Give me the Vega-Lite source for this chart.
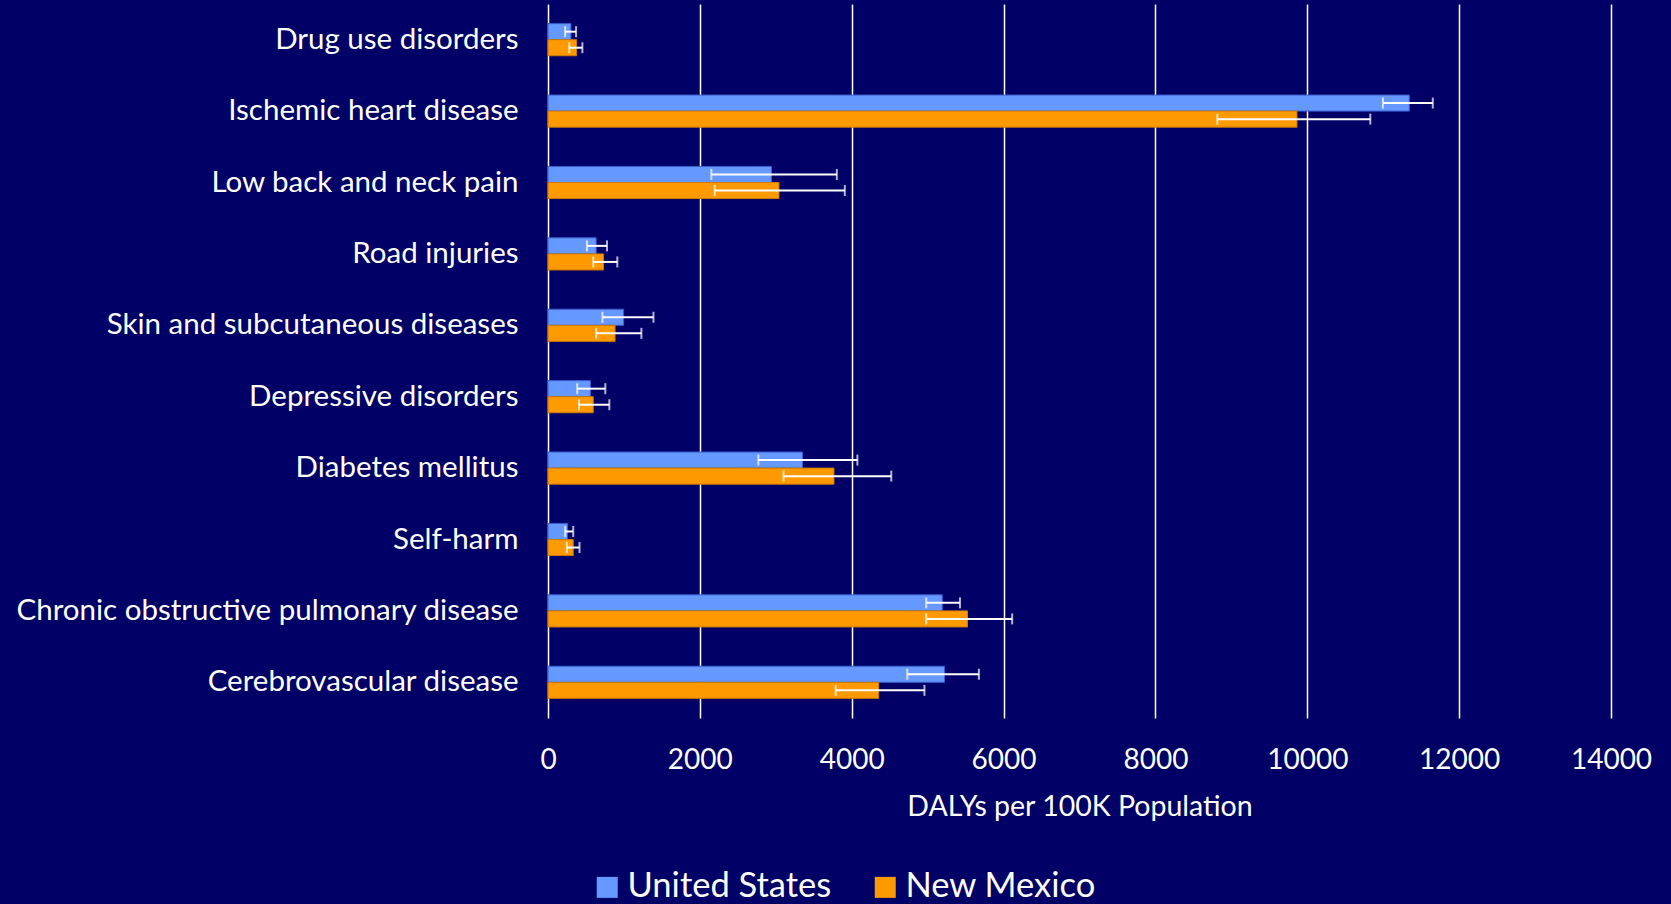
{
  "$schema": "https://vega.github.io/schema/vega-lite/v6.json",
  "autosize": {"type": "none"},
  "padding": {"left": 548, "top": 4, "right": 60, "bottom": 186},
  "width": 1063,
  "height": 714,
  "background": "#000066",
  "config": {
    "view": {"stroke": null},
    "font": "Lato",
    "text": {"font": "Lato"}
  },
  "data": {
    "values": [
      {"cause": "Drug use disorders", "region": "United States", "value": 302, "low": 226, "high": 370},
      {"cause": "Drug use disorders", "region": "New Mexico", "value": 377, "low": 280, "high": 453},
      {"cause": "Ischemic heart disease", "region": "United States", "value": 11343, "low": 10996, "high": 11653},
      {"cause": "Ischemic heart disease", "region": "New Mexico", "value": 9864, "low": 8815, "high": 10830},
      {"cause": "Low back and neck pain", "region": "United States", "value": 2943, "low": 2151, "high": 3804},
      {"cause": "Low back and neck pain", "region": "New Mexico", "value": 3042, "low": 2196, "high": 3909},
      {"cause": "Road injuries", "region": "United States", "value": 634, "low": 513, "high": 777},
      {"cause": "Road injuries", "region": "New Mexico", "value": 732, "low": 596, "high": 913},
      {"cause": "Skin and subcutaneous diseases", "region": "United States", "value": 996, "low": 717, "high": 1389},
      {"cause": "Skin and subcutaneous diseases", "region": "New Mexico", "value": 883, "low": 634, "high": 1230},
      {"cause": "Depressive disorders", "region": "United States", "value": 558, "low": 385, "high": 755},
      {"cause": "Depressive disorders", "region": "New Mexico", "value": 596, "low": 408, "high": 808},
      {"cause": "Diabetes mellitus", "region": "United States", "value": 3351, "low": 2770, "high": 4075},
      {"cause": "Diabetes mellitus", "region": "New Mexico", "value": 3766, "low": 3102, "high": 4521},
      {"cause": "Self-harm", "region": "United States", "value": 257, "low": 226, "high": 332},
      {"cause": "Self-harm", "region": "New Mexico", "value": 332, "low": 249, "high": 415},
      {"cause": "Chronic obstructive pulmonary disease", "region": "United States", "value": 5192, "low": 4981, "high": 5426},
      {"cause": "Chronic obstructive pulmonary disease", "region": "New Mexico", "value": 5525, "low": 4981, "high": 6113},
      {"cause": "Cerebrovascular disease", "region": "United States", "value": 5223, "low": 4732, "high": 5675},
      {"cause": "Cerebrovascular disease", "region": "New Mexico", "value": 4355, "low": 3789, "high": 4958}
    ]
  },
  "encoding": {
    "y": {
      "field": "cause", "type": "nominal", "sort": null,
      "scale": {"paddingInner": 0.55, "paddingOuter": 0.275},
      "axis": {
        "title": null, "domain": false, "ticks": false, "grid": false,
        "labelColor": "white", "labelFontSize": 29.5, "labelPadding": 30,
        "labelFont": "Lato", "labelLimit": 600
      }
    },
    "yOffset": {
      "field": "region", "type": "nominal",
      "scale": {"domain": ["United States", "New Mexico"]}
    }
  },
  "layer": [
    {
      "mark": {"type": "bar", "strokeWidth": 1},
      "encoding": {
        "x": {
          "field": "value", "type": "quantitative",
          "scale": {"domain": [0, 14000], "nice": false},
          "axis": {
            "title": "DALYs per 100K Population",
            "values": [0, 2000, 4000, 6000, 8000, 10000, 12000, 14000],
            "format": "d", "labelFlush": false,
            "domain": false, "ticks": false, "grid": true,
            "gridColor": "white", "gridWidth": 1.5, "gridOpacity": 1,
            "labelColor": "white", "labelFontSize": 28, "labelPadding": 28,
            "labelFont": "Lato",
            "titleColor": "white", "titleFontSize": 28.5, "titleFont": "Lato",
            "titleFontWeight": "normal", "titlePadding": 18
          }
        },
        "color": {
          "field": "region", "type": "nominal",
          "scale": {"domain": ["United States", "New Mexico"], "range": ["#6699FF", "#FF9900"]},
          "legend": {
            "title": null, "orient": "none", "legendX": 42, "legendY": 866,
            "direction": "horizontal", "symbolType": "square", "symbolSize": 441,
            "symbolStrokeWidth": 0, "symbolOpacity": 1,
            "labelColor": "white", "labelFontSize": 34.5, "labelFont": "Lato",
            "labelOffset": 3, "columnPadding": 36, "labelLimit": 400
          }
        },
        "stroke": {
          "field": "region", "type": "nominal",
          "scale": {"domain": ["United States", "New Mexico"], "range": ["#3A5FCD", "#CC7A00"]},
          "legend": null
        }
      }
    },
    {
      "mark": {"type": "rule", "color": "white", "strokeWidth": 2},
      "encoding": {
        "x": {"field": "low", "type": "quantitative"},
        "x2": {"field": "high"}
      }
    },
    {
      "mark": {"type": "tick", "color": "white", "thickness": 2, "size": 11, "orient": "vertical"},
      "encoding": {
        "x": {"field": "low", "type": "quantitative"}
      }
    },
    {
      "mark": {"type": "tick", "color": "white", "thickness": 2, "size": 11, "orient": "vertical"},
      "encoding": {
        "x": {"field": "high", "type": "quantitative"}
      }
    }
  ]
}
